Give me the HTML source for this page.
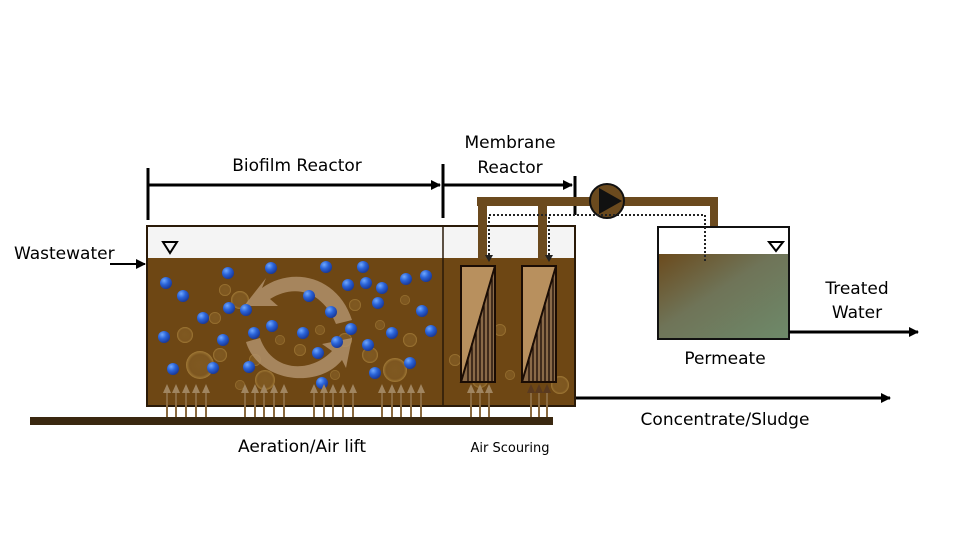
<!DOCTYPE html>
<html><head><meta charset="utf-8"><style>
html,body{margin:0;padding:0;background:#fff;}
svg{display:block;font-family:"DejaVu Sans","Liberation Sans",sans-serif;}
</style></head><body>
<svg width="960" height="548" viewBox="0 0 960 548" xmlns="http://www.w3.org/2000/svg">
<defs>
<marker id="ah" markerWidth="10" markerHeight="10" refX="9" refY="5" orient="auto" markerUnits="userSpaceOnUse"><path d="M0,0 L10,5 L0,10 z" fill="#000"/></marker>
<linearGradient id="perm" x1="0" y1="0" x2="1" y2="1">
<stop offset="0" stop-color="#6b4a1c"/><stop offset="0.45" stop-color="#6f7458"/><stop offset="1" stop-color="#6e8a6a"/></linearGradient>
<radialGradient id="bub" cx="0.5" cy="0.5" r="0.5"><stop offset="0" stop-color="#a07a3a" stop-opacity="0.35"/><stop offset="0.75" stop-color="#a07a3a" stop-opacity="0.3"/><stop offset="1" stop-color="#c8a050" stop-opacity="0.6"/></radialGradient>
<radialGradient id="ball" cx="0.35" cy="0.3" r="0.7"><stop offset="0" stop-color="#6fa8ff"/><stop offset="0.5" stop-color="#2a63d8"/><stop offset="1" stop-color="#1a3a9a"/></radialGradient>
</defs>

<g stroke="#000" stroke-width="3" fill="none">
<line x1="148" y1="168" x2="148" y2="220"/>
<line x1="443" y1="164" x2="443" y2="218"/>
<line x1="575" y1="176" x2="575" y2="215"/>
<line x1="148" y1="185" x2="440" y2="185" marker-end="url(#ah)"/>
<line x1="443" y1="185" x2="572" y2="185" marker-end="url(#ah)"/>
</g>
<text x="297" y="171" font-size="17" text-anchor="middle">Biofilm Reactor</text>
<text x="510" y="148" font-size="17" text-anchor="middle">Membrane</text>
<text x="510" y="173" font-size="17" text-anchor="middle">Reactor</text>

<rect x="147" y="226" width="428" height="180" fill="#f4f4f4"/>
<rect x="147" y="258" width="428" height="148" fill="#6e4714"/>
<rect x="147" y="226" width="428" height="180" fill="none" stroke="#2a1a08" stroke-width="2"/>
<line x1="443" y1="226" x2="443" y2="406" stroke="#2a1a08" stroke-width="1.5"/>
<path d="M163,242 L177,242 L170,253 z" fill="none" stroke="#000" stroke-width="2"/>

<g fill="url(#bub)">
<circle cx="200" cy="365" r="14"/><circle cx="185" cy="335" r="8"/><circle cx="215" cy="318" r="6"/><circle cx="220" cy="355" r="7"/>
<circle cx="225" cy="290" r="6"/><circle cx="255" cy="360" r="6"/><circle cx="280" cy="340" r="5"/><circle cx="300" cy="350" r="6"/>
<circle cx="320" cy="330" r="5"/><circle cx="345" cy="340" r="7"/><circle cx="355" cy="305" r="6"/><circle cx="370" cy="355" r="8"/>
<circle cx="395" cy="370" r="12"/><circle cx="410" cy="340" r="7"/><circle cx="380" cy="325" r="5"/><circle cx="335" cy="375" r="5"/>
<circle cx="240" cy="385" r="5"/><circle cx="470" cy="340" r="9"/><circle cx="480" cy="380" r="8"/><circle cx="500" cy="330" r="6"/>
<circle cx="510" cy="375" r="5"/><circle cx="560" cy="385" r="9"/><circle cx="455" cy="360" r="6"/><circle cx="405" cy="300" r="5"/>
<circle cx="240" cy="300" r="9"/><circle cx="265" cy="380" r="10"/>
</g>

<g fill="#b0906a" fill-opacity="0.85">
<path d="M352,320 C338,276 292,266 262,288 L266,278 L244,306 L278,306 L270,299 C294,284 322,290 336,324 z"/>
<path d="M246,342 C258,382 318,390 342,360 L346,368 L352,338 L322,344 L332,351 C310,374 272,372 260,338 z"/>
</g>

<g fill="url(#ball)">
<circle cx="166" cy="283" r="6"/><circle cx="183" cy="296" r="6"/><circle cx="228" cy="273" r="6"/><circle cx="271" cy="268" r="6"/>
<circle cx="326" cy="267" r="6"/><circle cx="363" cy="267" r="6"/><circle cx="348" cy="285" r="6"/><circle cx="366" cy="283" r="6"/>
<circle cx="382" cy="288" r="6"/><circle cx="406" cy="279" r="6"/><circle cx="426" cy="276" r="6"/><circle cx="229" cy="308" r="6"/>
<circle cx="246" cy="310" r="6"/><circle cx="203" cy="318" r="6"/><circle cx="309" cy="296" r="6"/><circle cx="331" cy="312" r="6"/>
<circle cx="378" cy="303" r="6"/><circle cx="422" cy="311" r="6"/><circle cx="164" cy="337" r="6"/><circle cx="223" cy="340" r="6"/>
<circle cx="254" cy="333" r="6"/><circle cx="272" cy="326" r="6"/><circle cx="303" cy="333" r="6"/><circle cx="351" cy="329" r="6"/>
<circle cx="337" cy="342" r="6"/><circle cx="368" cy="345" r="6"/><circle cx="392" cy="333" r="6"/><circle cx="431" cy="331" r="6"/>
<circle cx="173" cy="369" r="6"/><circle cx="213" cy="368" r="6"/><circle cx="249" cy="367" r="6"/><circle cx="318" cy="353" r="6"/>
<circle cx="322" cy="383" r="6"/><circle cx="375" cy="373" r="6"/><circle cx="410" cy="363" r="6"/>
</g>

<g stroke="#1a0c04" stroke-width="2">
<rect x="461" y="266" width="34" height="116" fill="#b8905e"/>
<path d="M461,382 L495,266 L495,382 z" fill="#8a6a48"/>
<rect x="522" y="266" width="34" height="116" fill="#b8905e"/>
<path d="M522,382 L556,266 L556,382 z" fill="#8a6a48"/>
</g>
<g stroke="#1a0c04" stroke-width="1.3">
<line x1="468" y1="357" x2="468" y2="382"/><line x1="472" y1="343" x2="472" y2="382"/><line x1="476" y1="330" x2="476" y2="382"/><line x1="480" y1="316" x2="480" y2="382"/><line x1="484" y1="302" x2="484" y2="382"/><line x1="488" y1="289" x2="488" y2="382"/><line x1="492" y1="275" x2="492" y2="382"/>
<line x1="529" y1="357" x2="529" y2="382"/><line x1="533" y1="343" x2="533" y2="382"/><line x1="537" y1="330" x2="537" y2="382"/><line x1="541" y1="316" x2="541" y2="382"/><line x1="545" y1="302" x2="545" y2="382"/><line x1="549" y1="289" x2="549" y2="382"/><line x1="553" y1="275" x2="553" y2="382"/>
</g>

<g stroke="#8a6a40" stroke-width="2">
<path d="M167,392V418M176,392V418M186,392V418M196,392V418M206,392V418 M245,392V418M255,392V418M264,392V418M274,392V418M284,392V418 M314,392V418M324,392V418M333,392V418M343,392V418M353,392V418 M382,392V418M392,392V418M401,392V418M411,392V418M421,392V418 M471,392V418M480,392V418M489,392V418 M531,392V418M539,392V418M547,392V418"/>
</g>
<g fill="#a08560">
<path d="M163,393l4,-9l4,9zM172,393l4,-9l4,9zM182,393l4,-9l4,9zM192,393l4,-9l4,9zM202,393l4,-9l4,9z"/>
<path d="M241,393l4,-9l4,9zM251,393l4,-9l4,9zM260,393l4,-9l4,9zM270,393l4,-9l4,9zM280,393l4,-9l4,9z"/>
<path d="M310,393l4,-9l4,9zM320,393l4,-9l4,9zM329,393l4,-9l4,9zM339,393l4,-9l4,9zM349,393l4,-9l4,9z"/>
<path d="M378,393l4,-9l4,9zM388,393l4,-9l4,9zM397,393l4,-9l4,9zM407,393l4,-9l4,9zM417,393l4,-9l4,9z"/>
<path d="M467,393l4,-9l4,9zM476,393l4,-9l4,9zM485,393l4,-9l4,9z"/>
<path d="M527,393l4,-9l4,9zM535,393l4,-9l4,9zM543,393l4,-9l4,9z" fill="#5a3a20"/>
</g>
<rect x="30" y="417" width="523" height="8" fill="#3a2810"/>

<g fill="#6b4a1e">
<rect x="477" y="197" width="241" height="9"/>
<rect x="478" y="197" width="9" height="62"/>
<rect x="538" y="197" width="9" height="62"/>
<rect x="710" y="197" width="8" height="54"/>
</g>
<path d="M708,248 L720,248 L714,256 z" fill="#8a6a40"/>
<circle cx="607" cy="201" r="17" fill="#6b4a1e" stroke="#111" stroke-width="2"/>
<path d="M599,188 L622,201 L599,214 z" fill="#111"/>
<g stroke="#222" stroke-width="2" stroke-dasharray="2,2" fill="none">
<path d="M489,259 V215 H705 V262"/>
<path d="M549,259 V215"/>
</g>
<path d="M485,255 L493,255 L489,262 z M545,255 L553,255 L549,262 z" fill="#222"/>

<rect x="658" y="227" width="131" height="112" fill="#fff"/>
<rect x="658" y="254" width="131" height="85" fill="url(#perm)"/>
<rect x="658" y="227" width="131" height="112" fill="none" stroke="#111" stroke-width="2"/>
<line x1="705" y1="215" x2="705" y2="262" stroke="#222" stroke-width="2" stroke-dasharray="2,2"/>
<path d="M769,242 L783,242 L776,251 z" fill="none" stroke="#000" stroke-width="2"/>

<g stroke="#000" stroke-width="3" fill="none">
<line x1="110" y1="264" x2="145" y2="264" stroke-width="2" marker-end="url(#ah)"/>
<line x1="789" y1="332" x2="918" y2="332" marker-end="url(#ah)"/>
<line x1="576" y1="398" x2="890" y2="398" marker-end="url(#ah)"/>
</g>

<text x="14" y="259" font-size="17">Wastewater</text>
<text x="857" y="294" font-size="17" text-anchor="middle">Treated</text>
<text x="857" y="318" font-size="17" text-anchor="middle">Water</text>
<text x="725" y="364" font-size="17" text-anchor="middle">Permeate</text>
<text x="725" y="425" font-size="17" text-anchor="middle">Concentrate/Sludge</text>
<text x="302" y="452" font-size="17" text-anchor="middle">Aeration/Air lift</text>
<text x="510" y="452" font-size="13" text-anchor="middle">Air Scouring</text>
</svg>
</body></html>
